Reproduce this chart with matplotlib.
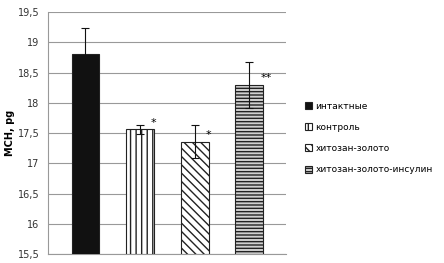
import matplotlib
matplotlib.use('Agg')
import matplotlib.pyplot as plt

groups = ['интактные', 'контроль', 'хитозан-золото', 'хитозан-золото-инсулин']
values = [18.8, 17.56, 17.36, 18.3]
errors = [0.44, 0.07, 0.28, 0.38]
marks = ['', '*', '*', '**']
y_ticks = [15.5, 16, 16.5, 17, 17.5, 18, 18.5, 19, 19.5]

plt.rcParams['hatch.linewidth'] = 1.0

fig = plt.figure(figsize=(4.44, 2.63), dpi=100)
ax = fig.add_axes([0.108, 0.034, 0.536, 0.92])

faces = ['#111111', 'white', 'white', '#d0d0d0']
hatches = [None, '|||', '\\\\\\\\', '-----']
xs = list(range(len(groups)))
for x, v, e, fc, h, lab in zip(xs, values, errors, faces, hatches, groups):
    ax.bar(x, v - 15.5, bottom=15.5, width=0.51, color=fc, hatch=h,
           edgecolor='#222222', linewidth=0.8, label=lab, zorder=3)
    ax.errorbar(x, v, yerr=e, fmt='none', ecolor='#111111', elinewidth=0.8,
                capsize=3, capthick=0.8, zorder=4)

for x, v, e, m in zip(xs, values, errors, marks):
    if m:
        ax.text(x + 0.2, v + 0.02, m, fontsize=8, ha='left', va='bottom', zorder=5)

ax.set_xlim(-0.687, 3.67)
ax.set_ylim(15.5, 19.5)
ax.set_yticks(y_ticks)
ax.set_yticklabels([f'{t:g}'.replace('.', ',') for t in y_ticks], fontsize=7, color='#333333')
ax.set_xticks([])
ax.tick_params(axis='y', length=0, pad=6)
ax.grid(axis='y', color='#999999', linewidth=0.8, zorder=0)
for s in ['top', 'right']:
    ax.spines[s].set_visible(False)
ax.spines['left'].set_color('#999999')
ax.spines['bottom'].set_color('#999999')
ax.set_ylabel('MCH, pg', fontsize=7, fontweight='bold', labelpad=2)

ax.legend(loc='center left', bbox_to_anchor=(1.045, 0.48), frameon=False,
          fontsize=6.5, handlelength=0.8, handleheight=0.8, handletextpad=0.4,
          labelspacing=1.35)

fig.savefig('out.png', dpi=100)
